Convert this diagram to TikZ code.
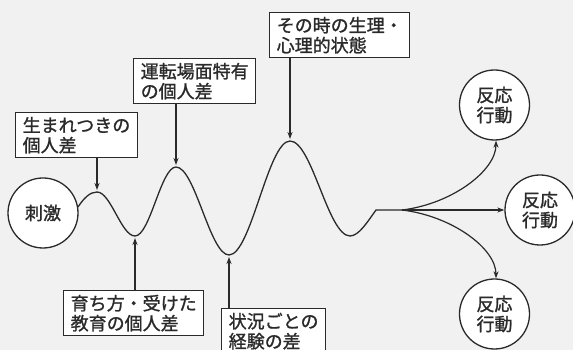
\documentclass[tikz,border=0pt]{standalone}
\usepackage{fontspec}
\setmainfont{Noto Sans CJK JP}[FakeBold=1.2]
\usetikzlibrary{arrows.meta}
\definecolor{ink}{HTML}{2A2A2A}
\definecolor{paper}{HTML}{F1F1F1}
\tikzset{
  lbl/.style={draw=ink, line width=1.4pt, fill=white, anchor=north west, align=left,
    inner xsep=7pt, inner ysep=3pt, minimum height=45pt,
    font=\fontsize{18}{20}\selectfont, text=ink},
  bub/.style={draw=ink, line width=1.3pt, circle, minimum size=70pt, inner sep=0pt,
    align=center, font=\fontsize{18}{20}\selectfont, text=ink, fill=white},
  wave/.style={draw=ink, line width=1.3pt},
  arr/.style={draw=ink, line width=1.2pt, -{Stealth[length=7pt,width=5pt]}}
}
\begin{document}
\begin{tikzpicture}[x=1pt,y=1pt]
\fill[paper] (0,0) rectangle (573,350);
\useasboundingbox (0,0) rectangle (573,350);
% circles
\node[bub] (st) at (43,137) {刺激};
\node[bub] (r1) at (494.5,245) {反応\\行動};
\node[bub] (r2) at (540,140) {反応\\行動};
\node[bub] (r3) at (494.5,36) {反応\\行動};
% wave points
\coordinate (w0) at (78,143);
\coordinate (p1) at (97,158);
\coordinate (t1) at (135,114);
\coordinate (p2) at (176,183);
\coordinate (t2) at (229,95);
\coordinate (p3) at (290,209);
\coordinate (t3) at (350,114);
\coordinate (we) at (376,140);
\coordinate (br) at (402,140);
\draw[wave] (w0) .. controls +(6,9) and +(-7,0) .. (p1)
  .. controls +(13.8,0) and +(-13.8,0) .. (t1)
  .. controls +(15,0) and +(-15,0) .. (p2)
  .. controls +(19,0) and +(-19,0) .. (t2)
  .. controls +(22,0) and +(-22,0) .. (p3)
  .. controls +(22,0) and +(-22,0) .. (t3)
  .. controls +(9,0) and +(-8,-11) .. (we) -- (br);
% branches
\draw[arr] (br) .. controls +(50,6) and +(0,-30) .. ([xshift=1.5pt]r1.south);
\draw[arr] (br) -- (r2.west);
\draw[arr] (br) .. controls +(50,-6) and +(0,30) .. ([xshift=1.5pt]r3.north);
% labels
\node[lbl, text width=108pt] (b1) at (15,238) {生まれつきの\\個人差};
\node[lbl, text width=108pt] (b2) at (133,292) {運転場面特有\\の個人差};
\node[lbl, text width=126pt] (b3) at (269,338) {その時の生理・\\心理的状態};
\node[lbl, text width=126pt] (b4) at (63,60) {育ち方・受けた\\教育の個人差};
\node[lbl, text width=90pt] (b5) at (221,42) {状況ごとの\\経験の差};
% pointers
\draw[arr] (b1.south -| p1) -- ([yshift=2pt]p1);
\draw[arr] (b2.south -| p2) -- ([yshift=2pt]p2);
\draw[arr] (b3.south -| p3) -- ([yshift=2pt]p3);
\draw[arr] (b4.north -| t1) -- ([yshift=-2pt]t1);
\draw[arr] (b5.north -| t2) -- ([yshift=-2pt]t2);
\end{tikzpicture}
\end{document}
